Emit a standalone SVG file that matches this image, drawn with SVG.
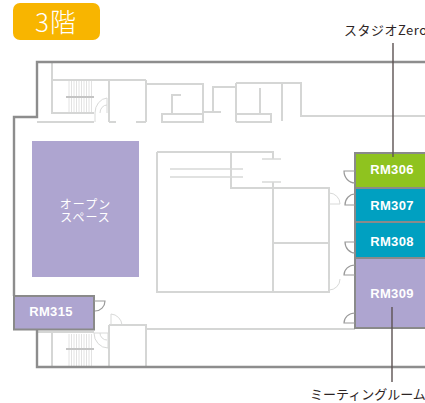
<svg xmlns="http://www.w3.org/2000/svg" width="425" height="403" viewBox="0 0 425 403">
<style>
.wall{fill:none;stroke:#d5d6d5;stroke-width:2}
.thin{fill:none;stroke:#d8d9d8;stroke-width:1}
.stair{fill:none;stroke:#e2e2e2;stroke-width:1}
.outer{fill:none;stroke:#8d8d8d;stroke-width:2.4}
.door{fill:none;stroke:#9a9a9a;stroke-width:1.2}
.room{stroke:#8a8a8a;stroke-width:2}
.leader{fill:none;stroke:#5d5353;stroke-width:1.4}
.rm{font-family:"Liberation Sans",Arial,sans-serif;font-weight:bold;font-size:13px;fill:#fff;text-anchor:middle;letter-spacing:.3px}
.jp{font-family:"Noto Sans CJK JP","Noto Sans",sans-serif;font-size:13px}
</style>
<g id="floorplan">
<path class="wall" d="M37 122H94M52 62V113H94M52 80H146M109 80V122M146 80V122M109 122H116M136 122H146M146 84H203V122M162 114H203V122H162ZM172 114V95H181M203 112H221M213 112V87H236M236 83V122M236 83H301V116H425M236 114H271V122H236M260 88V114M282 83V121"/>
<path class="wall" d="M157 152H273V159M157 152V292H329V188H273M231 152V188H273M273 182V292M273 243H329"/>
<path class="thin" style="stroke-width:1.6" d="M170 169H243M170 177H243M262 159H281M262 182H281"/>
<path class="wall" d="M37 332H94M52 332V367M109 325H146V367M109 325V367M146 329H355"/>
<path class="stair" d="M69 81V112M71.500 81V112M74 81V112M76.500 81V112M79 81V112M81.500 81V112M84 81V112M86.500 81V112M89 81V112M91.500 81V112M69 334V366M71.500 334V366M74 334V366M76.500 334V366M79 334V366M81.500 334V366M84 334V366M86.500 334V366M89 334V366M91.500 334V366"/>
<path d="M66 97H94M66 349H94" fill="none" stroke="#c4c4c4" stroke-width="2"/>
<path class="thin" d="M95 122V113A13 15 0 0 1 107 98V113M100 113A7 8 0 0 1 107 105M94 333H108V348A14 15 0 0 1 94 333M100 333A7 7 0 0 0 107 340M111 325V314A12 12 0 0 1 122 325M329 193A11 11 0 0 1 340 204H329M340 279A11 11 0 0 1 329 290V279"/>
<path class="outer" d="M425 62H37V117H14V296M37 330V367H425"/>
</g>
<g id="badge">
<rect x="13" y="3" width="87" height="37" rx="7" fill="#f8b500"/>
<text x="56" y="32" class="jp" style="font-size:26px;font-weight:300;letter-spacing:1px" fill="#fff" text-anchor="middle">3階</text>
</g>
<g id="open-space">
<rect x="32" y="141" width="107" height="136" fill="#aea5d0"/>
<text class="jp" style="font-size:12px;letter-spacing:1px" fill="#fff" text-anchor="middle"><tspan x="85.500" y="208.500">オープン</tspan><tspan x="85.500" y="222">スペース</tspan></text>
</g>
<g id="rm315">
<rect class="room" x="14" y="296" width="80" height="33.500" fill="#aea5d0"/>
<text class="rm" x="51" y="316">RM315</text>
<path class="door" d="M94 301H105A10 10 0 0 1 95 311"/>
</g>
<g id="rm306">
<rect class="room" x="355" y="153" width="72" height="35" fill="#8fc31f"/>
<text class="rm" x="392" y="174">RM306</text>
<path class="door" d="M355 171H344A11 12 0 0 0 355 183"/>
</g>
<g id="rm307">
<rect class="room" x="355" y="188" width="72" height="34" fill="#00a0c1"/>
<text class="rm" x="392" y="210">RM307</text>
<path class="door" d="M355 205H345A10 11 0 0 1 355 194"/>
</g>
<g id="rm308">
<rect class="room" x="355" y="222" width="72" height="36" fill="#00a0c1"/>
<text class="rm" x="392" y="246">RM308</text>
<path class="door" d="M355 242H345A10 11 0 0 0 355 253"/>
</g>
<g id="rm309">
<rect class="room" x="355" y="258" width="72" height="70" fill="#aea5d0"/>
<text class="rm" x="392" y="298">RM309</text>
<path class="door" d="M355 275H344A11 10 0 0 1 355 265M355 323H344A11 10 0 0 1 355 313"/>
</g>
<g id="connectors">
<path class="leader" d="M393 43V157M392 307V382"/>
</g>
<g id="labels">
<text class="jp" x="344" y="35" fill="#2d2525" style="letter-spacing:.5px">スタジオZero</text>
<text class="jp" x="310" y="399" fill="#2d2525">ミーティングルーム</text>
</g>
</svg>
